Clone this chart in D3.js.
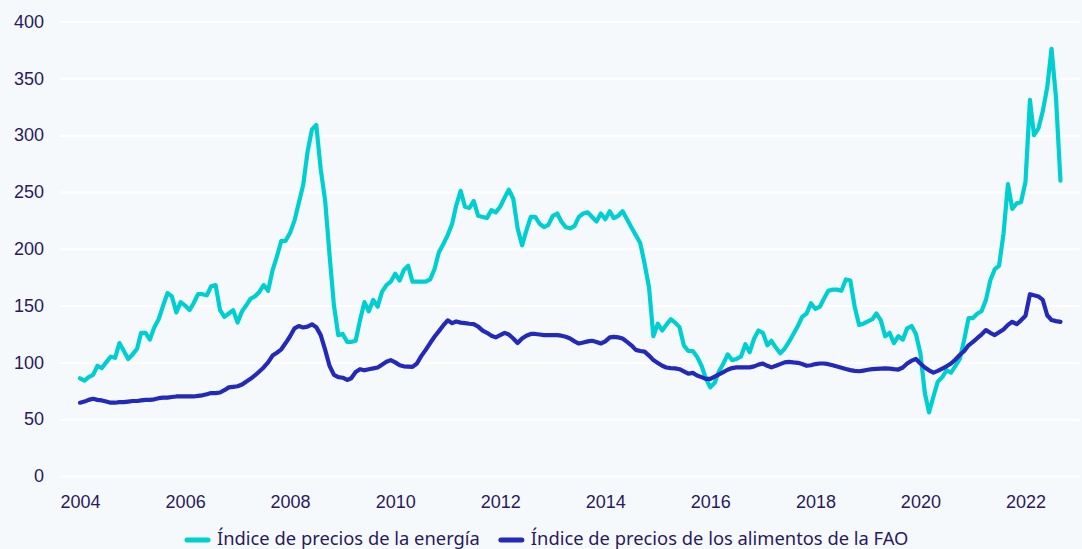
<!DOCTYPE html>
<html>
<head>
<meta charset="utf-8">
<script src="https://cdn.jsdelivr.net/npm/d3@7"></script>
<style>
  html, body { margin: 0; padding: 0; background: #f6f9fc; }
  svg { display: block; font-family: "Noto Sans", "Open Sans", sans-serif; }
  .axis text { fill: #2a1a5e; font-size: 18px; }
  .legend text { fill: #2a1a5e; font-size: 18.35px; }
</style>
</head>
<body>
<div id="chart"></div>
<script>
// monthly values, first value is January 2004
var startYear = 2004;

var energyIndex = [
    86, 84, 87, 89, 97, 95, 100, 105, 104, 117, 110, 103,      // 2004
    107, 112, 126, 126, 120, 131, 138, 150, 161, 158, 144, 153, // 2005
    150, 146, 152, 160, 160, 159, 167, 168, 146, 140, 143, 146, // 2006
    135, 145, 150, 156, 158, 162, 168, 163, 181, 193, 207, 207, // 2007
    214, 225, 240, 256, 285, 305, 309, 270, 242, 195, 150, 124, // 2008
    125, 118, 118, 119, 137, 153, 145, 155, 149, 162, 168, 171, // 2009
    178, 172, 181, 185, 171, 171, 171, 171, 173, 182, 197, 204, // 2010
    212, 222, 238, 251, 237, 236, 242, 229, 228, 227, 234, 232, // 2011
    237, 245, 252, 244, 218, 203, 216, 228, 228, 222, 219, 221, // 2012
    229, 231, 224, 219, 218, 220, 228, 231, 232, 228, 224, 231, // 2013
    226, 233, 227, 229, 233, 226, 219, 212, 205, 187, 166, 123, // 2014
    134, 128, 133, 138, 135, 131, 115, 110, 110, 105, 97, 86,   // 2015
    78, 82, 92, 99, 107, 102, 103, 105, 116, 109, 121, 128,     // 2016
    126, 115, 119, 113, 108, 112, 118, 125, 132, 140, 143, 152, // 2017
    147, 149, 156, 163, 164, 164, 163, 173, 172, 149, 133, 134, // 2018
    136, 138, 143, 137, 123, 126, 117, 123, 120, 130, 132, 125, // 2019
    108, 73, 56, 70, 83, 87, 93, 91, 97, 103, 120, 139,         // 2020
    139, 143, 145, 155, 172, 182, 185, 213, 257, 235, 240, 241, // 2021
    259, 331, 300, 306, 321, 342, 376, 333, 260                 // 2022
];

var foodIndex = [
    64.5, 65.5, 67, 68, 67, 66.5, 65.5, 64.5, 64.5, 65, 65, 65.5,        // 2004
    66, 66, 66.5, 67, 67, 67.5, 68.5, 69, 69, 69.5, 70, 70,              // 2005
    70, 70, 70, 70.5, 71, 72, 73, 73, 73.5, 75.5, 78, 78.5,              // 2006
    79, 80.5, 83, 85.5, 88.5, 92, 95.5, 100, 106, 108.5, 111.5, 117,     // 2007
    123, 130, 132, 130.7, 131.5, 133.5, 131, 124, 111, 97, 89, 87,       // 2008
    86.5, 84.5, 86, 91.5, 94, 93, 94, 94.7, 95.5, 98, 100.5, 102,        // 2009
    100, 97.5, 96.5, 96.3, 96, 99, 105.5, 111, 117, 122.5, 127.5, 132.5, // 2010
    137, 134.5, 136, 135, 134.5, 134, 133.6, 131.5, 128, 126, 123.5, 122,// 2011
    124, 126, 124.5, 121, 117, 121, 123.5, 125, 125, 124.5, 124, 124,    // 2012
    124, 124, 123.5, 122.5, 121, 118.5, 116.6, 117.5, 118.5, 119, 118, 116.6, // 2013
    118.5, 122, 122.5, 122, 121, 118, 115, 111, 110, 109.5, 106, 102,    // 2014
    99.5, 97, 95.5, 95, 94.7, 94, 92, 90, 90.8, 88.5, 87, 85.5,          // 2015
    85.5, 87.5, 89.5, 91.5, 93.5, 95, 95.6, 95.6, 95.6, 95.6, 96.5, 98,  // 2016
    99, 97, 95.6, 97, 98.5, 100, 100.5, 100, 99.6, 98.5, 97, 97.5,       // 2017
    98.5, 99, 99, 98.4, 97.5, 96.3, 95.3, 94.2, 93.2, 92.5, 92.2, 92.8,  // 2018
    93.5, 94, 94.2, 94.5, 94.7, 94.5, 94, 93.7, 95.5, 99, 101.5, 103,    // 2019
    99, 95.5, 93, 91, 92.5, 94.5, 96.5, 99, 102.5, 106.5, 110, 115,      // 2020
    118, 121.5, 124.5, 128.4, 126, 124, 126.5, 129, 133, 135.7, 133.6, 137, // 2021
    141, 160, 159, 158, 155, 141.5, 137.3, 136.3, 135.7                  // 2022
];

var seriesNames = [
    'Índice de precios de la energía',
    'Índice de precios de los alimentos de la FAO'
];
var seriesColors = ['#00cfd1', '#2329b9'];

var yTickValues = [0, 50, 100, 150, 200, 250, 300, 350, 400];
var xTickYears = [2004, 2006, 2008, 2010, 2012, 2014, 2016, 2018, 2020, 2022];

(function(d3) {
    'use strict';

    var width = 1082,
        height = 549;

    var plot = { left: 60, right: 1080, top: 21.5, bottom: 476 };

    var svg = d3.select('#chart').append('svg')
        .attr('width', width)
        .attr('height', height);

    svg.append('rect')
        .attr('width', width)
        .attr('height', height)
        .attr('fill', '#f6f9fc');

    var x = d3.scaleTime()
        .domain([new Date(2004, 0, 1), new Date(2022, 0, 1)])
        .range([80, 1025.5]);

    var y = d3.scaleLinear()
        .domain([0, 400])
        .range([plot.bottom, plot.top]);

    function toPoints(values) {
        return values.map(function(v, i) {
            return { date: new Date(startYear, i, 1), value: v };
        });
    }

    var series = [toPoints(energyIndex), toPoints(foodIndex)];

    // y axis with white gridlines
    var yAxis = svg.append('g')
        .attr('class', 'axis y-axis')
        .attr('transform', 'translate(' + plot.left + ',0)')
        .call(d3.axisLeft(y)
            .tickValues(yTickValues)
            .tickSize(-(plot.right - plot.left))
            .tickPadding(16));

    yAxis.select('.domain').remove();
    yAxis.selectAll('.tick line')
        .attr('stroke', '#ffffff')
        .attr('stroke-width', 2);

    // x axis, labels only
    var xAxis = svg.append('g')
        .attr('class', 'axis x-axis')
        .attr('transform', 'translate(0,' + plot.bottom + ')')
        .call(d3.axisBottom(x)
            .tickValues(xTickYears.map(function(yr) { return new Date(yr, 0, 1); }))
            .tickFormat(d3.timeFormat('%Y'))
            .tickSize(0)
            .tickPadding(19));

    xAxis.select('.domain').remove();

    var line = d3.line()
        .x(function(d) { return x(d.date); })
        .y(function(d) { return y(d.value); });

    svg.selectAll('.series')
        .data(series)
        .enter()
        .append('path')
        .attr('class', 'series')
        .attr('d', line)
        .attr('fill', 'none')
        .attr('stroke', function(d, i) { return seriesColors[i]; })
        .attr('stroke-width', 4.2)
        .attr('stroke-linejoin', 'round')
        .attr('stroke-linecap', 'round');

    // legend
    var legend = svg.append('g')
        .attr('class', 'legend');

    var legendY = 540,
        legendX = 187,
        swatch = 21,
        gap = 21;

    seriesNames.forEach(function(name, i) {
        var item = legend.append('g')
            .attr('transform', 'translate(' + legendX + ',' + legendY + ')');

        item.append('line')
            .attr('x1', 0)
            .attr('x2', swatch)
            .attr('stroke', seriesColors[i])
            .attr('stroke-width', 5)
            .attr('stroke-linecap', 'round');

        var text = item.append('text')
            .attr('x', swatch + 9)
            .attr('y', 5)
            .text(name);

        legendX += swatch + 9 + text.node().getComputedTextLength() + gap;
    });

})(window.d3);
</script>
</body>
</html>
